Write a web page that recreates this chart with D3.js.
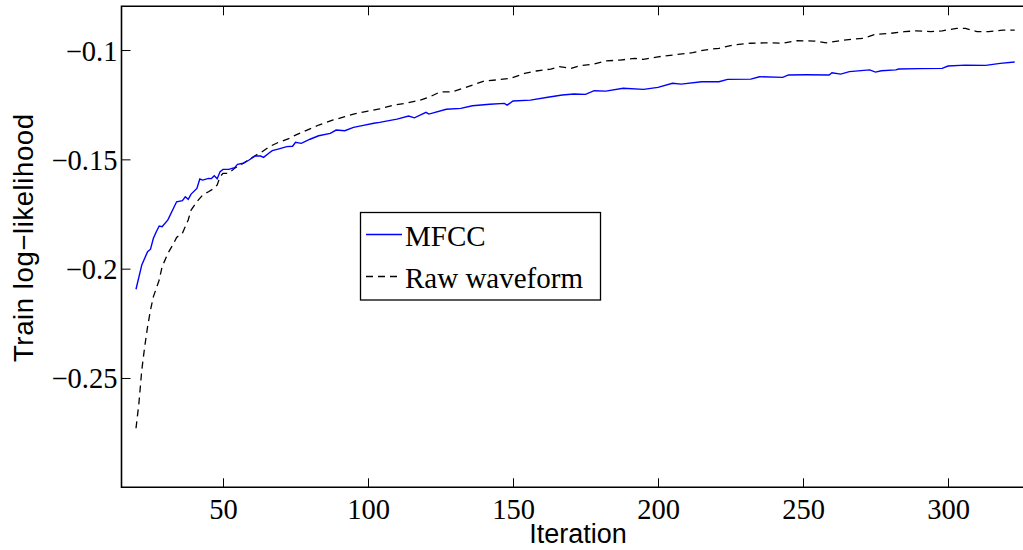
<!DOCTYPE html>
<html>
<head>
<meta charset="utf-8">
<script src="https://cdn.jsdelivr.net/npm/d3@7"></script>
<style>
  body { margin: 0; background: #fff; }
  svg { display: block; }
  .tick text { font-family: "Liberation Serif", "Times New Roman", serif; font-size: 28.5px; fill: #000; }
</style>
</head>
<body>
<svg id="chart" width="1023" height="550"></svg>
<script>
// [iteration, train log-likelihood]
const mfcc = [
  [20,-0.2094],[22,-0.1983],[24,-0.1922],[25,-0.1911],[26,-0.1861],[27,-0.1831],[28,-0.1805],[29,-0.1808],
  [31,-0.1777],[34,-0.1694],[36,-0.1689],[37,-0.1671],[38,-0.1683],[39,-0.1659],[41,-0.1633],[42,-0.1590],
  [43,-0.1595],[45,-0.1587],[46,-0.1588],[47,-0.1575],[48,-0.1589],[49,-0.1556],[50,-0.1546],[52,-0.1546],
  [54,-0.1538],[55,-0.1523],[57,-0.1518],[59,-0.1503],[61,-0.1485],[63,-0.1485],[64,-0.1491],[66,-0.1470],
  [67,-0.1460],[69,-0.1453],[72,-0.1442],[74,-0.1440],[75,-0.1422],[77,-0.1427],[80,-0.1408],[83,-0.1392],
  [87,-0.1381],[89,-0.1366],[92,-0.1369],[95,-0.1354],[98,-0.1346],[102,-0.1335],[104,-0.1331],[110,-0.1316],
  [114,-0.1302],[116,-0.1310],[120,-0.1285],[121,-0.1293],[127,-0.1271],[132,-0.1267],[136,-0.1255],[142,-0.1248],
  [147,-0.1244],[148,-0.1252],[150,-0.1233],[156,-0.1229],[162,-0.1216],[167,-0.1206],[171,-0.1201],[175,-0.1203],
  [178,-0.1186],[182,-0.1188],[188,-0.1175],[195,-0.1180],[200,-0.1171],[205,-0.1152],[208,-0.1156],[215,-0.1145],
  [221,-0.1145],[224,-0.1134],[232,-0.1133],[235,-0.1122],[243,-0.1125],[245,-0.1114],[251,-0.1113],[259,-0.1114],
  [260,-0.1104],[263,-0.1110],[266,-0.1099],[273,-0.1091],[275,-0.1101],[277,-0.1095],[282,-0.1091],[283,-0.1087],
  [290,-0.1085],[298,-0.1084],[300,-0.1073],[306,-0.1069],[313,-0.1070],[318,-0.1061],[323,-0.1055]
];

const rawWave = [
  [20,-0.2730],[21,-0.2616],[22,-0.2463],[23,-0.2357],[24,-0.2265],[25,-0.2189],[26,-0.2128],[28,-0.2052],
  [29,-0.1991],[31,-0.1930],[33,-0.1884],[34,-0.1857],[36,-0.1838],[38,-0.1777],[39,-0.1732],[41,-0.1694],
  [43,-0.1663],[45,-0.1648],[47,-0.1632],[48,-0.1617],[49,-0.1579],[50,-0.1564],[52,-0.1564],[54,-0.1541],
  [57,-0.1518],[59,-0.1500],[62,-0.1476],[63,-0.1470],[66,-0.1442],[69,-0.1423],[73,-0.1404],[75,-0.1389],
  [79,-0.1366],[83,-0.1343],[88,-0.1320],[92,-0.1305],[95,-0.1293],[100,-0.1279],[104,-0.1269],[109,-0.1252],
  [113,-0.1244],[118,-0.1229],[121,-0.1216],[125,-0.1191],[129,-0.1191],[135,-0.1165],[140,-0.1142],[144,-0.1137],
  [149,-0.1130],[154,-0.1107],[158,-0.1096],[163,-0.1087],[166,-0.1076],[170,-0.1084],[173,-0.1072],[178,-0.1064],
  [182,-0.1050],[187,-0.1046],[192,-0.1038],[195,-0.1043],[200,-0.1031],[205,-0.1023],[212,-0.1012],[216,-0.1000],
  [221,-0.0992],[226,-0.0977],[232,-0.0969],[238,-0.0967],[243,-0.0969],[248,-0.0957],[254,-0.0959],[258,-0.0967],
  [263,-0.0957],[267,-0.0950],[271,-0.0946],[275,-0.0928],[280,-0.0924],[285,-0.0916],[289,-0.0912],[294,-0.0916],
  [298,-0.0912],[303,-0.0901],[306,-0.0901],[310,-0.0916],[314,-0.0916],[319,-0.0909],[323,-0.0909]
];

const xTicks = [50, 100, 150, 200, 250, 300];
const yTicks = [-0.25, -0.2, -0.15, -0.1];
const seriesNames = ['MFCC', 'Raw waveform'];

const svg = d3.select('#chart');
const plotL = 121.5, plotR = 1035, plotT = 6.3, plotB = 487.3;

const x = d3.scaleLinear().domain([15, 330]).range([plotL, plotR]);
const y = d3.scaleLinear().domain([-0.3, -0.08]).range([plotB, plotT]);

// axes (ticks point inward, like matlab)
const xAxis = svg.append('g')
  .attr('transform', `translate(0,${plotB})`)
  .call(d3.axisBottom(x).tickValues(xTicks).tickSizeInner(-9).tickSizeOuter(0));
xAxis.select('.domain').remove();
xAxis.selectAll('.tick text').attr('dy', '0.71em').attr('y', 11);

const xTop = svg.append('g')
  .attr('transform', `translate(0,${plotT})`)
  .call(d3.axisTop(x).tickValues(xTicks).tickSizeInner(-9).tickSizeOuter(0).tickFormat(''));
xTop.select('.domain').remove();

const yAxis = svg.append('g')
  .attr('transform', `translate(${plotL},0)`)
  .call(d3.axisLeft(y).tickValues(yTicks).tickSizeInner(-9).tickSizeOuter(0).tickFormat(d3.format('~g')));
yAxis.select('.domain').remove();
yAxis.selectAll('.tick text').attr('x', -4).attr('dy', '0.35em');

svg.selectAll('.tick line').attr('stroke', '#000').attr('stroke-width', 1);

// box
svg.append('path')
  .attr('d', `M${plotR},${plotT}H${plotL}V${plotB}H${plotR}`)
  .attr('fill', 'none').attr('stroke', '#000').attr('stroke-width', 1.6);

const line = d3.line().x(d => x(d[0])).y(d => y(d[1]));

svg.append('path').datum(rawWave)
  .attr('d', line).attr('fill', 'none')
  .attr('stroke', '#000').attr('stroke-width', 1.3).attr('stroke-dasharray', '7,5');

svg.append('path').datum(mfcc)
  .attr('d', line).attr('fill', 'none')
  .attr('stroke', '#0000ff').attr('stroke-width', 1.4);

// labels
svg.append('text')
  .attr('x', 578).attr('y', 543)
  .attr('text-anchor', 'middle')
  .style('font-family', '"Liberation Sans", Arial, sans-serif').style('font-size', '27px')
  .text('Iteration');

svg.append('text')
  .attr('transform', 'translate(33,238) rotate(-90)')
  .attr('text-anchor', 'middle')
  .attr('textLength', 248).attr('lengthAdjust', 'spacing')
  .style('font-family', '"Liberation Sans", Arial, sans-serif').style('font-size', '27.5px')
  .text('Train log\u2212likelihood');

// legend
const lg = svg.append('g');
lg.append('rect')
  .attr('x', 360.5).attr('y', 212.5).attr('width', 240).attr('height', 87.5)
  .attr('fill', '#fff').attr('stroke', '#000').attr('stroke-width', 1.3);

const legendRows = [
  { name: seriesNames[0], color: '#0000ff', dash: null, y: 234.5 },
  { name: seriesNames[1], color: '#000', dash: '7,5', y: 276.5 }
];
legendRows.forEach(r => {
  lg.append('line')
    .attr('x1', 366).attr('x2', 402).attr('y1', r.y).attr('y2', r.y)
    .attr('stroke', r.color).attr('stroke-width', 1.3)
    .attr('stroke-dasharray', r.dash);
  lg.append('text')
    .attr('x', 405).attr('y', r.y + 11)
    .style('font-family', '"Liberation Serif", "Times New Roman", serif').style('font-size', '29px')
    .text(r.name);
});
</script>
</body>
</html>
